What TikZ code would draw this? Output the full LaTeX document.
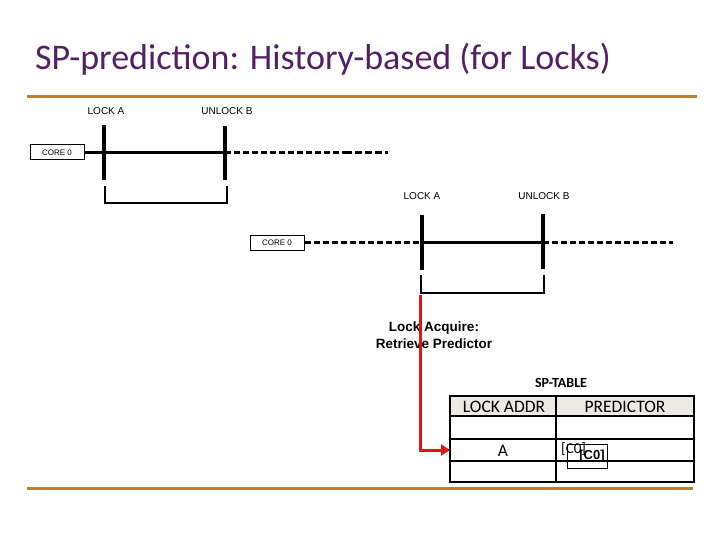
\documentclass[tikz,border=0pt]{standalone}
\usepackage{fontspec}
\setmainfont{Carlito}
\newfontfamily\smallfont{Liberation Sans}
\usetikzlibrary{arrows.meta}
\definecolor{titlepurple}{RGB}{84,32,100}
\definecolor{rulebrown}{RGB}{188,128,48}
\definecolor{hdrgray}{RGB}{236,234,226}
\definecolor{arrowred}{RGB}{225,20,20}
\tikzset{
  lbl/.style={font=\smallfont\fontsize{10}{11}\selectfont, inner sep=0pt},
  corebox/.style={draw, line width=1pt, minimum width=54pt, minimum height=15pt, inner sep=0pt, font=\smallfont\fontsize{8}{9}\selectfont},
  bar/.style={line width=4pt},
  tline/.style={line width=2.2pt},
  dline/.style={line width=2.2pt, dash pattern=on 6pt off 3pt},
  bracket/.style={line width=1.8pt},
  hrule/.style={draw=rulebrown, line width=3pt},
  cell/.style={draw, line width=2pt},
}
\begin{document}
\begin{tikzpicture}[x=1pt,y=-1pt]
\useasboundingbox (0,0) rectangle (720,540);
% title
\node[anchor=base west, text=titlepurple, font=\fontsize{36}{40}\selectfont, inner sep=0pt] (title) at (35,70) {SP-prediction: History-based (for Locks)};
\draw[hrule] (27,97) -- (697,97);
\draw[hrule] (27,488) -- (693,488);

% first timeline
\node[corebox] (core1) at (57,152.5) {CORE 0};
\coordinate (b1t) at (104,125); \coordinate (b1b) at (104,180);
\coordinate (b2t) at (225,126); \coordinate (b2b) at (225,180);
\coordinate (d1m) at (345,152.5);
\coordinate (d1e) at (388,152.5);
\node[lbl] (lockA1) at (106,111) {LOCK A};
\node[lbl] (unlockB1) at (227,111) {UNLOCK B};
\draw[tline] (core1.east) -- (225,152.5);
\draw[dline] (225,152.5) -- (d1m);
\draw[line width=2.8pt, dash pattern=on 7pt off 3pt] (d1m) -- (d1e);
\draw[bar] (b1t) -- (b1b);
\draw[bar] (b2t) -- (b2b);
\draw[bracket] (105,186) -- (105,203) -- (227,203) -- (227,186);

% second timeline
\node[corebox] (core2) at (277,242.5) {CORE 0};
\coordinate (c1t) at (422,215); \coordinate (c1b) at (422,270);
\coordinate (c2t) at (543,214); \coordinate (c2b) at (543,269);
\coordinate (d2e) at (673,242.5);
\node[lbl] (lockA2) at (422,196) {LOCK A};
\node[lbl] (unlockB2) at (544,196) {UNLOCK B};
\draw[dline] (core2.east) -- (422,242.5);
\draw[line width=3pt] (422,242.5) -- (485,242.5);
\draw[tline] (485,242.5) -- (543,242.5);
\draw[dline] (543,242.5) -- (d2e);
\draw[bar] (c1t) -- (c1b);
\draw[bar] (c2t) -- (c2b);
\draw[bracket] (421,275) -- (421,293) -- (544,293) -- (544,275);

% annotation
\node[font=\smallfont\bfseries\fontsize{13.5}{17}\selectfont, align=center, inner sep=0pt] (acq) at (434,335.5) {Lock Acquire:\\Retrieve Predictor};

% table
\node[font=\bfseries\fontsize{14}{15}\selectfont, inner sep=0pt] (sptab) at (561,383) {SP-TABLE};
\fill[hdrgray] (450,396) rectangle (694,416);
\draw[cell] (450,396) rectangle (694,482);
\draw[cell] (556,396) -- (556,482);
\draw[cell] (450,416) -- (694,416);
\draw[cell] (450,439) -- (694,439);
\draw[cell] (450,461) -- (694,461);
\node[font=\fontsize{17.5}{19}\selectfont, inner sep=0pt] (hA) at (504,407) {LOCK ADDR};
\node[font=\fontsize{17.5}{19}\selectfont, inner sep=0pt] (hP) at (625,407) {PREDICTOR};
\node[font=\fontsize{17.5}{19}\selectfont, inner sep=0pt] (rowA) at (503,451) {A};
\node[anchor=west, font=\fontsize{15}{16}\selectfont, inner sep=0pt] (c0a) at (561,449) {[C0]};
\node[draw, line width=0.7pt, minimum width=40pt, minimum height=24pt, inner sep=0pt, font=\smallfont\bfseries\fontsize{13}{14}\selectfont] (c0b) at (587,456) {\raisebox{-3pt}{\hspace*{10pt}[C0]}};

% red arrow
\coordinate (rs) at (420,295);
\coordinate (rc) at (420,450);
\draw[arrowred, line width=3pt, -{Triangle[length=9pt,width=11pt]}] (rs) -- (rc) -- (450,450);
\end{tikzpicture}
\end{document}
